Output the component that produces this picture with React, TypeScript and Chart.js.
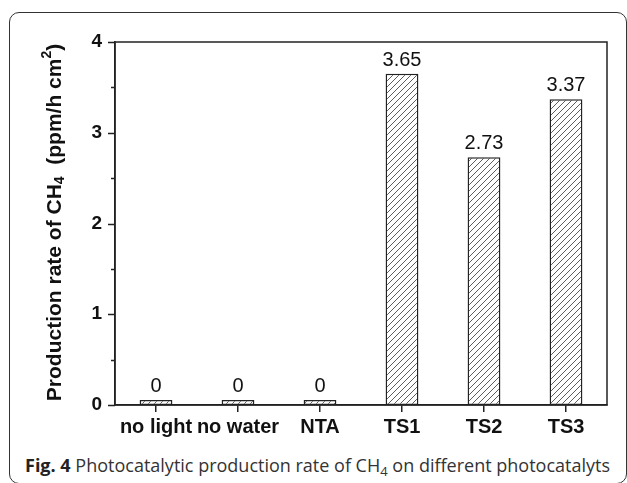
import React, { useEffect, useRef } from 'react';
import { Chart, registerables } from 'chart.js';

Chart.register(...registerables);

const categories = ['no light', 'no water', 'NTA', 'TS1', 'TS2', 'TS3'];
const rates = [0, 0, 0, 3.65, 2.73, 3.37];
const valueLabels = ['0', '0', '0', '3.65', '2.73', '3.37'];
const yMajorTicks = [0, 1, 2, 3, 4];
const yMinorTicks = [0.5, 1.5, 2.5, 3.5];
const yTitleParts: { t: string; k: 'n' | 'sub' | 'sup' }[] = [
  { t: 'Production rate of CH', k: 'n' },
  { t: '4', k: 'sub' },
  { t: '  (ppm/h cm', k: 'n' },
  { t: '2', k: 'sup' },
  { t: ')', k: 'n' },
];

const AXIS_COLOR = '#222';
const FONT = '"Liberation Sans", Arial, sans-serif';

function makeHatch(): CanvasPattern | string {
  const s = 6;
  const pc = document.createElement('canvas');
  pc.width = s;
  pc.height = s;
  const c = pc.getContext('2d');
  if (!c) return '#fff';
  c.fillStyle = '#fff';
  c.fillRect(0, 0, s, s);
  c.strokeStyle = '#333';
  c.lineWidth = 0.8;
  c.beginPath();
  c.moveTo(-1, s + 1);
  c.lineTo(s + 1, -1);
  c.moveTo(-1, 1);
  c.lineTo(1, -1);
  c.moveTo(s - 1, s + 1);
  c.lineTo(s + 1, s - 1);
  c.stroke();
  const p = c.createPattern(pc, 'repeat');
  return p || '#fff';
}

const framePlugin = {
  id: 'framePlugin',
  afterDraw(chart: any) {
    const { ctx, chartArea } = chart;
    const { left, right, top, bottom } = chartArea;
    const y = chart.scales.y;
    ctx.save();
    ctx.strokeStyle = AXIS_COLOR;
    ctx.lineWidth = 1.5;
    ctx.strokeRect(left, top, right - left, bottom - top);
    ctx.beginPath();
    yMajorTicks.forEach((v) => {
      const py = Math.round(y.getPixelForValue(v)) + 0.5;
      ctx.moveTo(left - 7, py);
      ctx.lineTo(left, py);
    });
    yMinorTicks.forEach((v) => {
      const py = Math.round(y.getPixelForValue(v)) + 0.5;
      ctx.moveTo(left - 4, py);
      ctx.lineTo(left, py);
    });
    ctx.stroke();

    // y-axis title with subscript / superscript
    const base = 21;
    const small = 14;
    const fontFor = (k: string) => `bold ${k === 'n' ? base : small}px ${FONT}`;
    let total = 0;
    yTitleParts.forEach((p) => {
      ctx.font = fontFor(p.k);
      total += ctx.measureText(p.t).width;
    });
    const cy = (top + bottom) / 2 - 1;
    ctx.translate(55, cy);
    ctx.rotate(-Math.PI / 2);
    ctx.fillStyle = '#111';
    ctx.textBaseline = 'middle';
    ctx.textAlign = 'left';
    let x = -total / 2;
    yTitleParts.forEach((p) => {
      ctx.font = fontFor(p.k);
      const dy = p.k === 'sub' ? 5 : p.k === 'sup' ? -8 : 0;
      ctx.fillText(p.t, x, dy);
      x += ctx.measureText(p.t).width;
    });
    ctx.restore();
  },
  afterDatasetsDraw(chart: any) {
    const { ctx } = chart;
    const meta = chart.getDatasetMeta(0);
    ctx.save();
    ctx.font = `20px ${FONT}`;
    ctx.fillStyle = '#111';
    ctx.textAlign = 'center';
    ctx.textBaseline = 'alphabetic';
    meta.data.forEach((bar: any, i: number) => {
      ctx.fillText(valueLabels[i], bar.x, bar.y - 8);
    });
    ctx.restore();
  },
};

export default function App() {
  const ref = useRef<HTMLCanvasElement | null>(null);
  useEffect(() => {
    if (!ref.current) return;
    const hatch = makeHatch();
    const chart = new Chart(ref.current, {
      type: 'bar',
      data: {
        labels: categories,
        datasets: [
          {
            data: rates,
            backgroundColor: hatch as any,
            borderColor: AXIS_COLOR,
            borderWidth: 1.5,
            borderSkipped: false,
            minBarLength: 5,
            categoryPercentage: 1,
            barPercentage: 0.4,
          },
        ],
      },
      options: {
        responsive: false,
        animation: false,
        events: [],
        layout: { padding: { left: 0, top: 42, right: 20, bottom: 0 } },
        plugins: {
          legend: { display: false },
          tooltip: { enabled: false },
          title: { display: false },
        },
        scales: {
          x: {
            type: 'category',
            offset: true,
            grid: {
              display: true,
              offset: false,
              drawOnChartArea: false,
              drawTicks: true,
              tickLength: 7,
              color: AXIS_COLOR,
              lineWidth: 1.5,
            },
            border: { display: true, color: AXIS_COLOR, width: 1.5 },
            ticks: {
              color: '#111',
              font: { family: FONT, size: 20, weight: 'bold' },
              padding: 3,
              maxRotation: 0,
              autoSkip: false,
            },
            afterFit(scale: any) {
              scale.height = 40;
            },
          },
          y: {
            min: 0,
            max: 4,
            grid: { display: false, drawTicks: false },
            border: { display: true, color: AXIS_COLOR, width: 1.5 },
            ticks: {
              stepSize: 1,
              color: '#111',
              font: { family: FONT, size: 19, weight: 'bold' },
              padding: 13,
            },
            afterFit(scale: any) {
              scale.width = 115;
            },
          },
        },
      },
      plugins: [framePlugin],
    });
    return () => chart.destroy();
  }, []);

  return (
    <div
      style={{
        position: 'fixed',
        left: 0,
        top: 0,
        width: 627,
        height: 483,
        overflow: 'hidden',
        background: '#fff',
      }}
    >
      <div
        style={{
          position: 'absolute',
          left: 9,
          top: 12,
          width: 618,
          height: 472,
          boxSizing: 'border-box',
          border: '1.5px solid #333',
          borderRadius: 10,
        }}
      />
      <canvas
        ref={ref}
        width={627}
        height={445}
        style={{ position: 'absolute', left: 0, top: 0, display: 'block' }}
      />
      <div
        style={{
          position: 'absolute',
          left: 25,
          top: 452,
          whiteSpace: 'nowrap',
          fontFamily: '"Open Sans", "Noto Sans", sans-serif',
          fontSize: 18,
          color: '#333',
          lineHeight: '26px',
        }}
      >
        <span style={{ fontWeight: 'bold', color: '#222' }}>Fig. 4</span> Photocatalytic production rate of CH
        <sub style={{ fontSize: 13, verticalAlign: 'baseline', position: 'relative', top: 4 }}>4</sub> on different
        photocatalyts
      </div>
    </div>
  );
}
